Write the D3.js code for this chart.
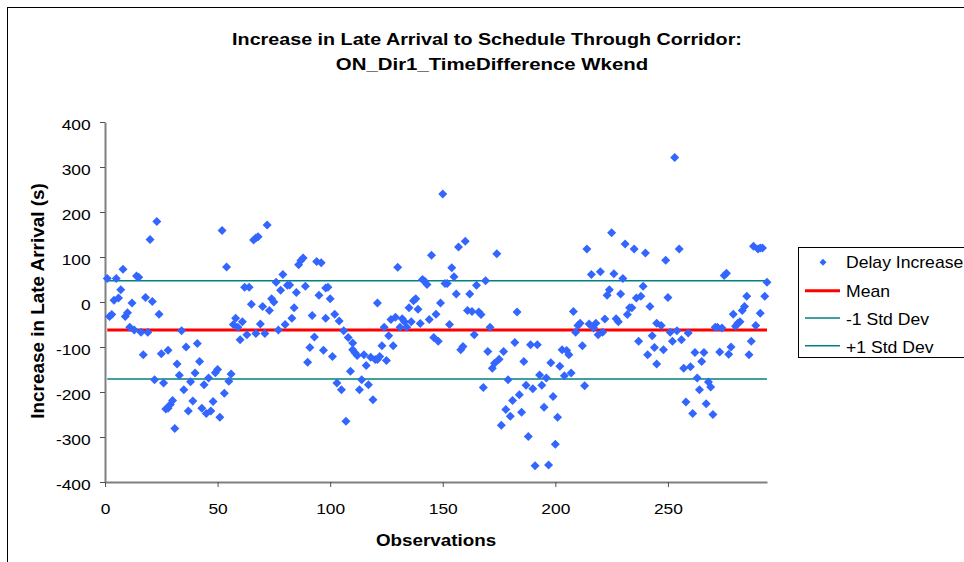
<!DOCTYPE html>
<html><head><meta charset="utf-8">
<script src="https://cdn.jsdelivr.net/npm/d3@7"></script>
<style>html,body{margin:0;padding:0;background:#fff}svg{display:block}</style>
</head><body>
<svg id="chart" width="964" height="562"></svg>
<script>
// ---- data ----
const titleLines = ["Increase in Late Arrival to Schedule Through Corridor:", "ON_Dir1_TimeDifference Wkend"];
const xLabel = "Observations";
const yLabel = "Increase in Late Arrival (s)";
const xTicks = [0, 50, 100, 150, 200, 250];
const yTicks = [-400, -300, -200, -100, 0, 100, 200, 300, 400];
const legendLabels = ["Delay Increase", "Mean", "-1 Std Dev", "+1 Std Dev"];
const meanValue = -62;
const stdDev = 109;

const obs = [
  1,2,3,4,5,6,7,8,9,10,11,12,13,14,15,16,17,18,19,20,21,22,23,24,25,26,27,28,28,29,30,31,32,33,34,35,36,37,38,39,40,41,42,43,44,45,46,47,48,49,
  50,51,52,53,54,55,56,57,58,59,60,61,62,63,64,65,66,67,67,68,69,70,71,72,73,74,75,76,77,78,79,80,81,82,83,84,85,86,87,88,89,90,91,92,93,94,95,96,97,98,98,
  99,100,101,102,103,104,105,106,107,108,109,110,110,111,112,113,114,115,116,117,118,119,120,121,121,122,123,124,125,126,127,128,129,130,131,132,133,134,135,136,137,138,139,140,141,142,143,144,145,146,147,
  148,149,150,151,152,153,154,155,156,157,158,159,160,161,162,163,164,165,166,167,168,169,170,171,172,173,174,175,176,177,178,179,180,181,182,183,184,185,186,187,188,189,190,191,192,193,194,195,
  196,197,198,199,200,201,202,203,204,205,206,207,208,209,210,211,212,213,214,215,216,217,218,219,220,221,222,223,224,225,226,227,228,229,230,231,232,233,234,235,236,237,238,239,240,241,242,243,244,245,245,
  247,248,249,250,251,252,253,254,255,256,257,258,259,260,261,262,263,264,265,266,267,268,269,270,271,272,273,274,275,276,277,278,279,280,281,282,283,284,285,286,287,288,289,290,291,291,292,293,294
];
const delay = [
  52,-32,-28,4,52,9,27,73,-32,-24,-56,-2,-62,58,55,-67,-117,10,-67,139,1,-173,179,-27,-115,-180,-238,-107,-236,-228,-219,-281,-138,-163,-64,-195,-100,-242,-177,-220,-158,-92,-132,-236,-184,-248,-169,-242,-221,-157,
  -150,-256,159,-203,78,-176,-160,-50,-36,-56,-84,-44,33,-73,33,-5,138,-70,142,145,-49,-10,-70,171,-19,7,0,44,-62,26,61,-50,37,38,-36,-13,21,83,92,98,35,-134,-101,-30,-78,90,15,87,-107,-36,31,
  33,7,-121,-27,-180,-42,-195,-64,-265,-79,-154,-91,-106,-113,-119,-195,-173,-117,-141,-184,-123,-217,-128,-128,-2,-121,-97,-56,-130,-75,-39,-97,-34,77,-56,-37,-44,-56,-13,-44,3,7,-16,-48,50,46,39,-39,104,-79,-27,
  -87,-2,240,41,41,-50,76,56,18,122,-106,-99,135,-19,18,-21,-73,37,-22,-28,-190,47,-110,-56,-147,-136,107,-127,-274,-110,-239,-173,-254,-219,-90,-22,-206,-245,-132,-185,-299,-95,-193,-364,-95,-162,-185,-234,
  -169,-362,-135,-210,-316,-256,-143,-106,-164,-108,-117,-158,-21,-67,-52,-47,-97,-186,118,-49,61,-58,-47,-73,67,-67,-38,15,27,154,63,-37,-44,18,52,129,-28,-13,-13,118,9,-87,13,35,109,-117,-10,-75,-101,-47,-138,
  -52,-106,93,10,-67,-87,321,-64,118,-84,-147,-222,-69,-144,-248,-112,-169,-195,-132,-112,-226,-178,-189,-250,-56,-56,-111,-58,59,64,-116,-100,-27,-54,-47,-44,-19,-10,13,-117,-87,124,-52,118,120,-25,120,13,44
];

// ---- chart ----
const FONT = "'Liberation Sans', Arial, Helvetica, sans-serif";
const svg = d3.select("#chart");
const x = d3.scaleLinear().domain([0, 294]).range([105, 767]);
const y = d3.scaleLinear().domain([-400, 400]).range([482, 122]);

// outer chart border
svg.append("rect").attr("x", 7.5).attr("y", 7.5).attr("width", 1000).attr("height", 1000)
  .attr("fill", "#fff").attr("stroke", "#000").attr("stroke-width", 1);

function label(str, tx, ty, size, weight, anchor, sx, rot) {
  return svg.append("text")
    .attr("transform", `translate(${tx},${ty})` + (rot ? ` rotate(${rot})` : "") + ` scale(${sx},1)`)
    .attr("text-anchor", anchor)
    .style("font-family", FONT).style("font-size", size + "px").style("font-weight", weight)
    .attr("fill", "#000").text(str);
}

// title
label(titleLines[0], 487, 44.5, 17, "bold", "middle", 1.16);
label(titleLines[1], 492, 69.5, 17, "bold", "middle", 1.2);

// axes
const plain = d => String(d);
const yAxis = svg.append("g").attr("transform", "translate(105,0)")
  .call(d3.axisLeft(y).tickValues(yTicks).tickFormat(plain).tickSize(5).tickSizeOuter(0));
const xAxis = svg.append("g").attr("transform", "translate(0,482)")
  .call(d3.axisBottom(x).tickValues(xTicks).tickFormat(plain).tickSize(5).tickSizeOuter(0));
[yAxis, xAxis].forEach(g => {
  g.select(".domain").attr("stroke", "#808080").attr("stroke-width", 2);
  g.selectAll(".tick line").attr("stroke", "#505050").attr("stroke-width", 1);
  g.selectAll(".tick text").attr("x", null).attr("y", null).attr("dy", null)
    .style("font-family", FONT).style("font-size", "15.4px").attr("fill", "#000");
});
yAxis.selectAll(".tick text").attr("text-anchor", "end").attr("transform", "translate(-14.3,7.2) scale(1.13,1)");
xAxis.selectAll(".tick text").attr("text-anchor", "middle").attr("transform", "translate(0,32) scale(1.13,1)");

// axis titles
label(xLabel, 436, 546, 16.8, "bold", "middle", 1.12);
label(yLabel, 44, 301, 18.9, "bold", "middle", 1, -90);

// reference lines
const xr = d3.extent(obs);
const lineGen = d3.line().x(d => x(d[0])).y(d => y(d[1]));
const refLines = [
  {v: meanValue, color: "#FF0000", w: 3},
  {v: meanValue - stdDev, color: "#008080", w: 1.5},
  {v: meanValue + stdDev, color: "#008080", w: 1.5}
];
svg.append("g").selectAll("path").data(refLines).join("path")
  .attr("d", d => lineGen([[xr[0], d.v], [xr[1], d.v]]))
  .attr("stroke", d => d.color).attr("stroke-width", d => d.w).attr("fill", "none");

// points
const diamond = r => `M0,${-r}L${r},0L0,${r}L${-r},0Z`;
const pts = obs.map((o, i) => [o, delay[i]]);
svg.append("g").selectAll("path").data(pts).join("path")
  .attr("transform", d => `translate(${x(d[0])},${y(d[1])})`)
  .attr("d", diamond(4.5)).attr("fill", "#3366FF");

// legend
const lg = svg.append("g");
lg.append("rect").attr("x", 798.5).attr("y", 247.5).attr("width", 200).attr("height", 110)
  .attr("fill", "#fff").attr("stroke", "#000").attr("stroke-width", 1);
const baselines = [268.3, 296.7, 325, 352.7];
legendLabels.forEach((t, i) => {
  label(t, 846, baselines[i], 16, "normal", "start", 1.1);
});
lg.append("path").attr("transform", `translate(823,${baselines[0] - 6})`).attr("d", diamond(3.5)).attr("fill", "#3366FF");
const legLines = [
  {c: "#FF0000", w: 3, yy: baselines[1] - 6},
  {c: "#008080", w: 1.5, yy: baselines[2] - 7},
  {c: "#008080", w: 1.5, yy: baselines[3] - 7}
];
lg.selectAll("line.l").data(legLines).join("line")
  .attr("x1", 805).attr("x2", 840).attr("y1", d => d.yy).attr("y2", d => d.yy)
  .attr("stroke", d => d.c).attr("stroke-width", d => d.w);
</script>
</body></html>
